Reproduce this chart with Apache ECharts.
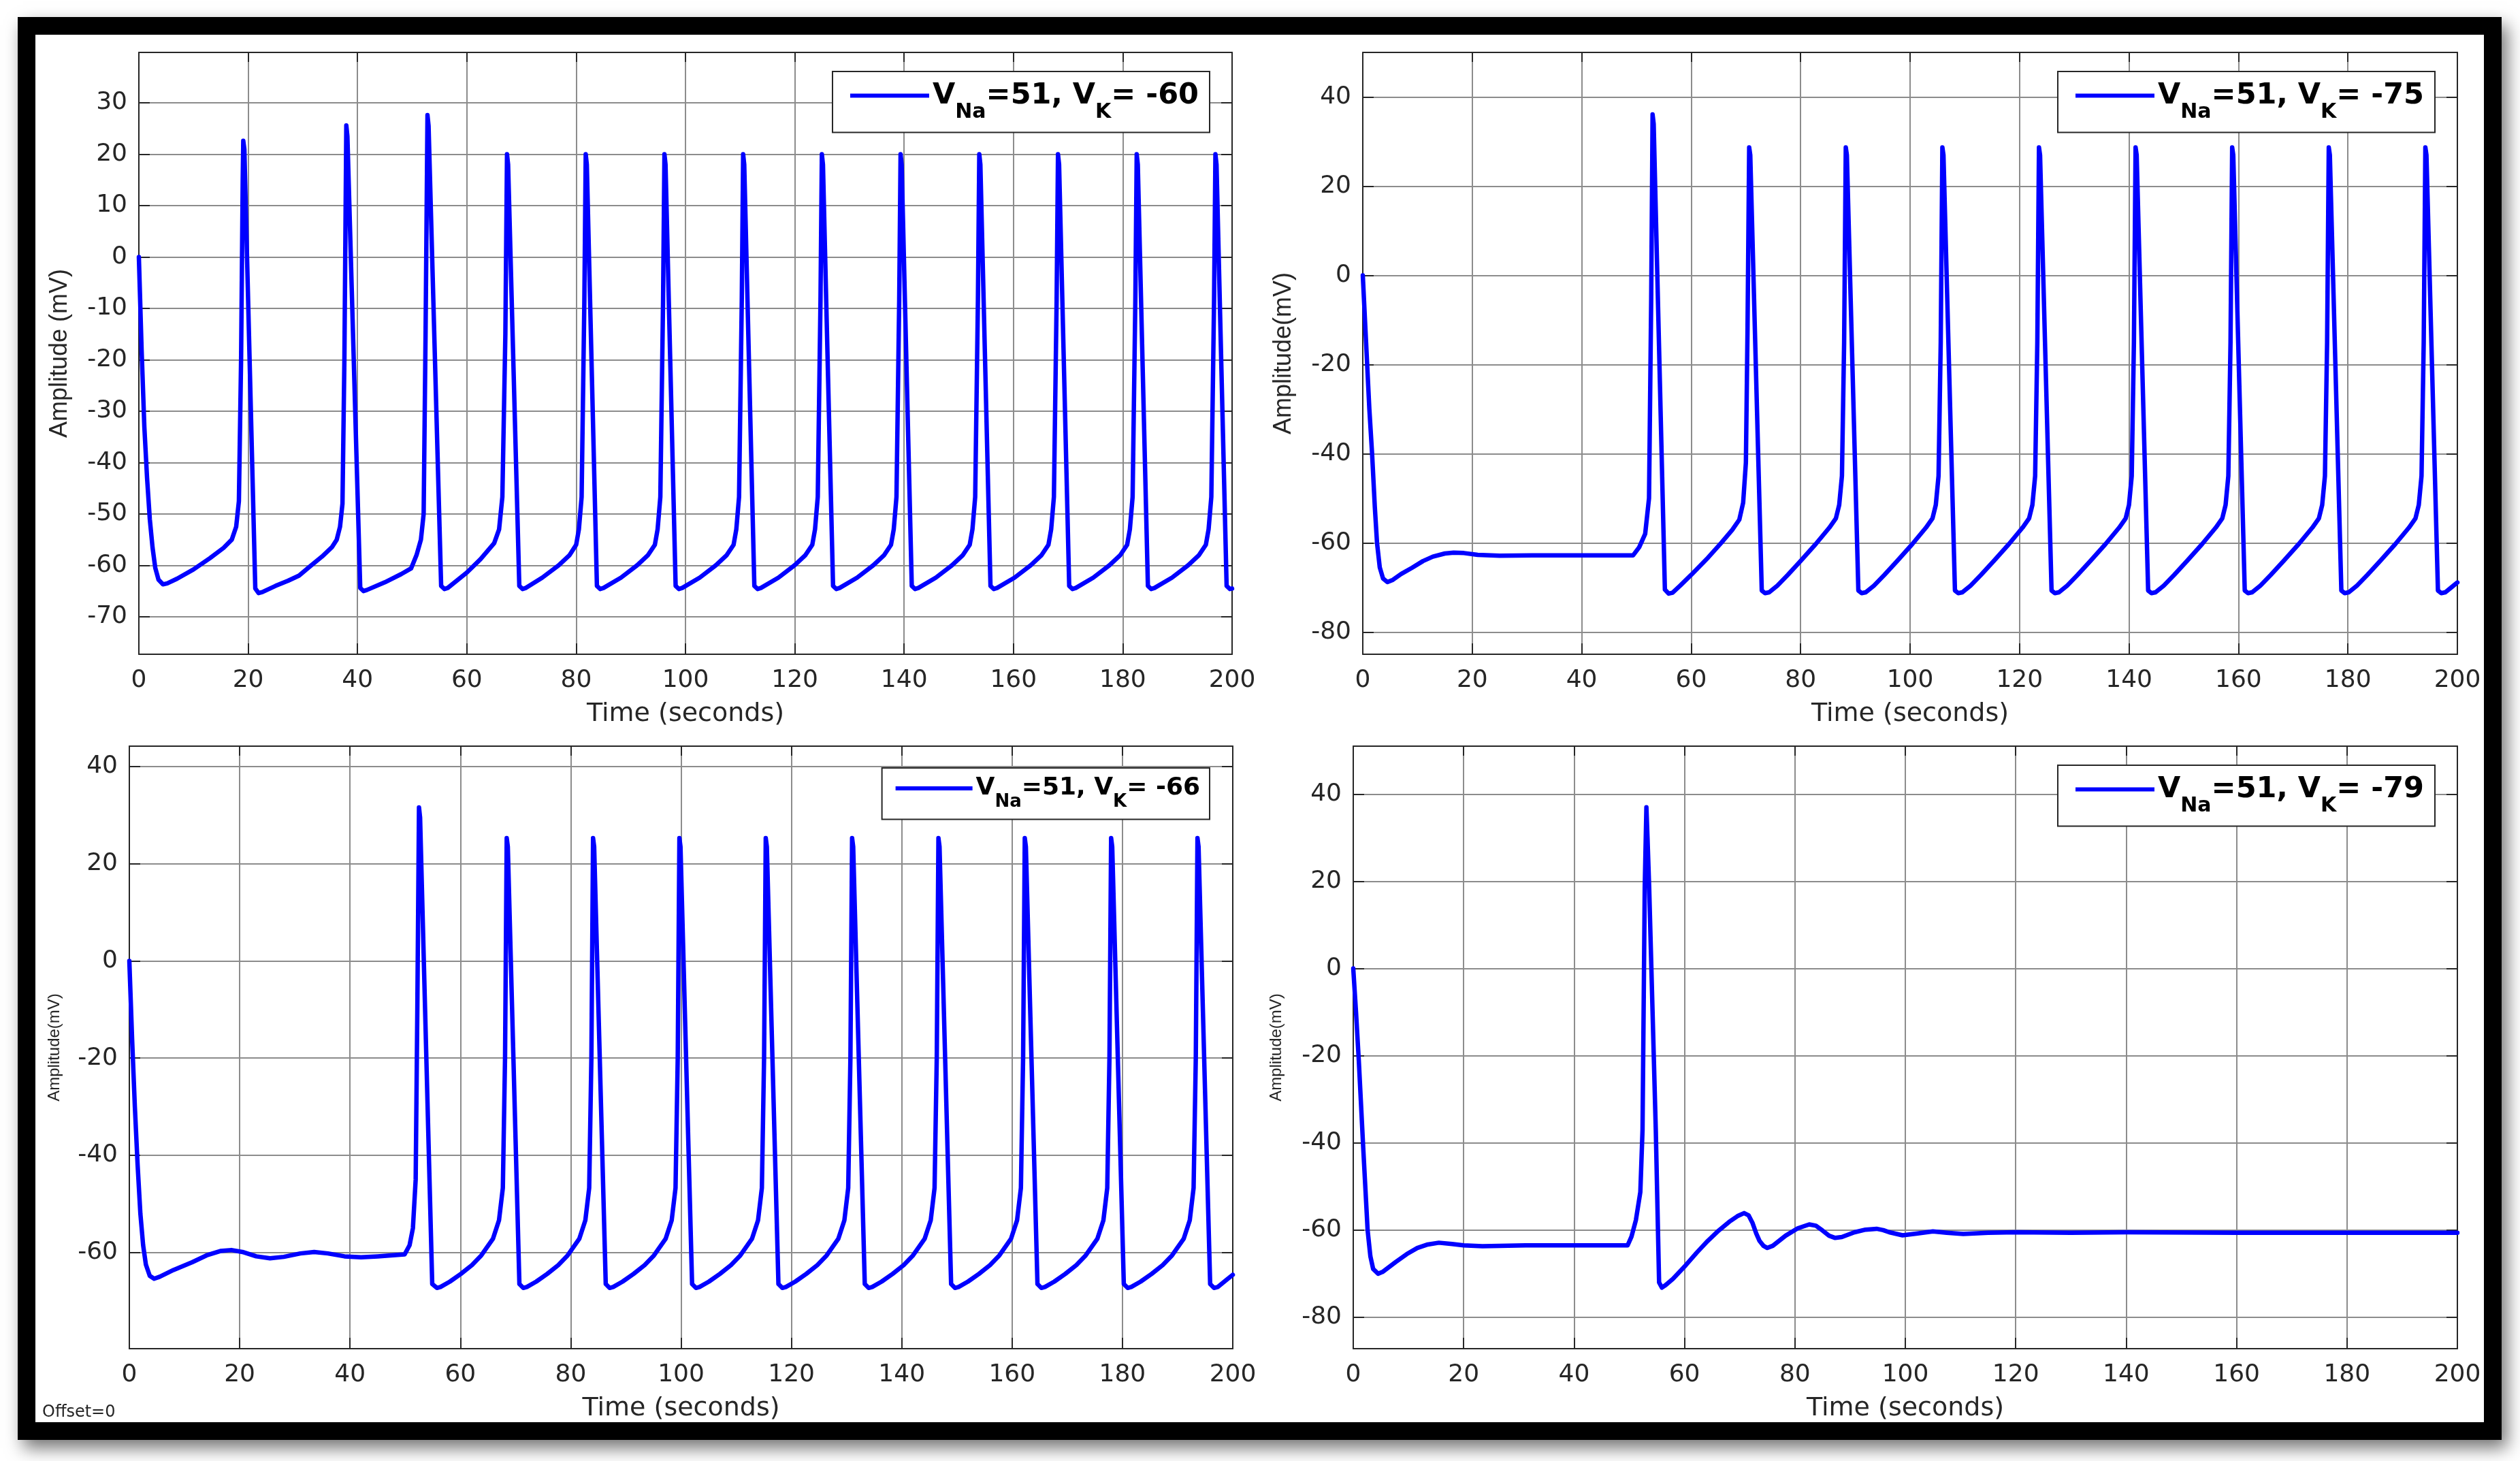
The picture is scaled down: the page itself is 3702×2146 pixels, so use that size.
<!DOCTYPE html>
<html>
<head>
<meta charset="utf-8">
<title>Membrane potential, four V_K values</title>
<script src="https://cdn.jsdelivr.net/npm/echarts@6/dist/echarts.min.js"></script>
<style>
html, body { margin: 0; padding: 0; background: #fff; }
#main { width: 3702px; height: 2146px; }
</style>
</head>
<body>
<div id="main"></div>
<script>
// traces: [time (s), amplitude (mV)]
var traceK60 = [
  [0,0],[0.5,-18],[1.0,-33],[1.5,-43],[2.0,-51],[2.5,-56.5],[3.0,-60.5],[3.6,-62.8],[4.4,-63.7],[5.2,-63.5],
  [7,-62.6],[10,-60.8],[13,-58.6],[15.5,-56.6],[17,-55],[17.8,-52.5],[18.3,-47.5],[18.7,-20],[19.0,15],[19.1,22.6],[19.3,21],
  [21.3,-64.5],[21.9,-65.4],[22.6,-65.2],[25,-64],[27.3,-63],[29.3,-62],[31.3,-60.2],[33.5,-58.3],[35.3,-56.5],[36.2,-55],[36.8,-52.5],
  [37.25,-48],[37.6,-20],[37.95,25.6],[38.15,23.5],[40.5,-64.4],[41.1,-65],[41.7,-64.8],[45,-63.3],[48,-61.7],[49.8,-60.6],
  [50.8,-58],[51.6,-55],[52.1,-50],[52.45,-15],[52.8,27.6],[53.0,25.5],[55.3,-64],[55.9,-64.6],[56.5,-64.4],[60,-61.4],
  [62.5,-58.8],[64.2,-56.7],[65.0,-55.7],[65.9,-53],[66.5,-46.7],[67.05,-15],[67.35,20],[67.55,18],
  [69.6,-64],[70.2,-64.6],[70.8,-64.4],[73.8,-62.4],[76.8,-60],[78.8,-58],[80.0,-56],[80.5,-53],[81.0,-46.7],[81.5,-8.5],[81.75,20],[81.95,18],
  [83.8,-64],[84.4,-64.6],[85.0,-64.4],[88.2,-62.4],[91.15,-60],[93.15,-58],[94.4,-56],[94.9,-53],[95.4,-46.7],[95.9,-8.5],[96.15,20],[96.35,18],
  [98.2,-64],[98.8,-64.6],[99.4,-64.4],[102.6,-62.4],[105.55,-60],[107.55,-58],[108.8,-56],[109.3,-53],[109.8,-46.7],[110.3,-8.5],[110.55,20],[110.75,18],
  [112.6,-64],[113.2,-64.6],[113.8,-64.4],[117.0,-62.4],[119.95,-60],[121.95,-58],[123.2,-56],[123.7,-53],[124.2,-46.7],[124.7,-8.5],[124.95,20],[125.15,18],
  [127.0,-64],[127.6,-64.6],[128.2,-64.4],[131.4,-62.4],[134.35,-60],[136.35,-58],[137.6,-56],[138.1,-53],[138.6,-46.7],[139.1,-8.5],[139.35,20],[139.55,18],
  [141.4,-64],[142.0,-64.6],[142.6,-64.4],[145.8,-62.4],[148.75,-60],[150.75,-58],[152.0,-56],[152.5,-53],[153.0,-46.7],[153.5,-8.5],[153.75,20],[153.95,18],
  [155.8,-64],[156.4,-64.6],[157.0,-64.4],[160.2,-62.4],[163.15,-60],[165.15,-58],[166.4,-56],[166.9,-53],[167.4,-46.7],[167.9,-8.5],[168.15,20],[168.35,18],
  [170.2,-64],[170.8,-64.6],[171.4,-64.4],[174.6,-62.4],[177.55,-60],[179.55,-58],[180.8,-56],[181.3,-53],[181.8,-46.7],[182.3,-8.5],[182.55,20],[182.75,18],
  [184.6,-64],[185.2,-64.6],[185.8,-64.4],[189.0,-62.4],[191.95,-60],[193.95,-58],[195.2,-56],[195.7,-53],[196.2,-46.7],[196.7,-8.5],[196.95,20],[197.15,18],
  [199.0,-64],[199.6,-64.6],[200,-64.5]
];

var traceK75 = [
  [0,0],[0.6,-15],[1.2,-30],[1.7,-40],[2.2,-52],[2.6,-60],[3.1,-65.5],[3.7,-68],[4.5,-68.8],[5.5,-68.3],[7,-67],[9,-65.6],
  [11,-64.1],[12.8,-63.1],[15,-62.4],[16.6,-62.2],[18.5,-62.3],[21,-62.7],[25,-62.9],[31,-62.8],[40,-62.8],[49.4,-62.8],
  [50.5,-61],[51.6,-58],[52.3,-50],[52.7,-5],[52.95,36.1],[53.15,34],[55.2,-70.5],[55.9,-71.4],[56.6,-71.2],[58,-69.6],
  [60,-67.2],[63.1,-63.3],[65.5,-60],[67.5,-57.1],[68.8,-54.8],[69.5,-51],[70.0,-42],[70.3,-12],[70.6,28.7],[70.8,27],
  [72.9,-70.7],[73.5,-71.3],[74.25,-71.1],[75.75,-69.6],[77.65,-67.2],[80.05,-64],[82.75,-60.3],[85.25,-56.6],[86.45,-54.5],[87.05,-51.5],[87.55,-45],[87.95,-15],[88.25,28.7],[88.45,27],
  [90.55,-70.7],[91.15,-71.3],[91.9,-71.1],[93.4,-69.6],[95.3,-67.2],[97.7,-64],[100.4,-60.3],[102.9,-56.6],[104.1,-54.5],[104.7,-51.5],[105.2,-45],[105.6,-15],[105.9,28.7],[106.1,27],
  [108.2,-70.7],[108.8,-71.3],[109.55,-71.1],[111.05,-69.6],[112.95,-67.2],[115.35,-64],[118.05,-60.3],[120.55,-56.6],[121.75,-54.5],[122.35,-51.5],[122.85,-45],[123.25,-15],[123.55,28.7],[123.75,27],
  [125.85,-70.7],[126.45,-71.3],[127.2,-71.1],[128.7,-69.6],[130.6,-67.2],[133.0,-64],[135.7,-60.3],[138.2,-56.6],[139.4,-54.5],[140.0,-51.5],[140.5,-45],[140.9,-15],[141.2,28.7],[141.4,27],
  [143.5,-70.7],[144.1,-71.3],[144.85,-71.1],[146.35,-69.6],[148.25,-67.2],[150.65,-64],[153.35,-60.3],[155.85,-56.6],[157.05,-54.5],[157.65,-51.5],[158.15,-45],[158.55,-15],[158.85,28.7],[159.05,27],
  [161.15,-70.7],[161.75,-71.3],[162.5,-71.1],[164.0,-69.6],[165.9,-67.2],[168.3,-64],[171.0,-60.3],[173.5,-56.6],[174.7,-54.5],[175.3,-51.5],[175.8,-45],[176.2,-15],[176.5,28.7],[176.7,27],
  [178.8,-70.7],[179.4,-71.3],[180.15,-71.1],[181.65,-69.6],[183.55,-67.2],[185.95,-64],[188.65,-60.3],[191.15,-56.6],[192.35,-54.5],[192.95,-51.5],[193.45,-45],[193.85,-15],[194.15,28.7],[194.35,27],
  [196.45,-70.7],[197.05,-71.3],[197.8,-71.1],[199,-69.9],[200,-68.9]
];

var traceK66 = [
  [0,0],[0.5,-16],[1.0,-30],[1.5,-42],[2.0,-52],[2.5,-58.5],[3.0,-62.5],[3.7,-64.8],[4.5,-65.4],[5.5,-65],[8,-63.6],
  [11.4,-62],[14,-60.6],[16.5,-59.7],[18.5,-59.5],[20.5,-59.9],[23,-60.8],[25.5,-61.2],[28,-60.9],[31,-60.2],[33.5,-59.9],
  [36,-60.2],[39,-60.8],[42,-61],[45,-60.8],[49.9,-60.4],[50.8,-58.5],[51.4,-55],[51.9,-45],[52.2,-10],[52.5,31.6],[52.7,29.5],
  [54.9,-66.5],[55.75,-67.3],[56.4,-67.1],[58.1,-66.0],[60.1,-64.4],[62.1,-62.6],[63.8,-60.6],[65.9,-57.2],[67.0,-53.4],[67.7,-46.7],[68.1,-19.8],[68.4,25.3],[68.6,23.5],
  [70.7,-66.5],[71.4,-67.3],[72.05,-67.1],[73.75,-66.0],[75.75,-64.4],[77.75,-62.6],[79.45,-60.6],[81.55,-57.2],[82.65,-53.4],[83.35,-46.7],[83.75,-19.8],[84.05,25.3],[84.25,23.5],
  [86.35,-66.5],[87.05,-67.3],[87.7,-67.1],[89.4,-66.0],[91.4,-64.4],[93.4,-62.6],[95.1,-60.6],[97.2,-57.2],[98.3,-53.4],[99.0,-46.7],[99.4,-19.8],[99.7,25.3],[99.9,23.5],
  [102.0,-66.5],[102.7,-67.3],[103.35,-67.1],[105.05,-66.0],[107.05,-64.4],[109.05,-62.6],[110.75,-60.6],[112.85,-57.2],[113.95,-53.4],[114.65,-46.7],[115.05,-19.8],[115.35,25.3],[115.55,23.5],
  [117.65,-66.5],[118.35,-67.3],[119.0,-67.1],[120.7,-66.0],[122.7,-64.4],[124.7,-62.6],[126.4,-60.6],[128.5,-57.2],[129.6,-53.4],[130.3,-46.7],[130.7,-19.8],[131.0,25.3],[131.2,23.5],
  [133.3,-66.5],[134.0,-67.3],[134.65,-67.1],[136.35,-66.0],[138.35,-64.4],[140.35,-62.6],[142.05,-60.6],[144.15,-57.2],[145.25,-53.4],[145.95,-46.7],[146.35,-19.8],[146.65,25.3],[146.85,23.5],
  [148.95,-66.5],[149.65,-67.3],[150.3,-67.1],[152.0,-66.0],[154.0,-64.4],[156.0,-62.6],[157.7,-60.6],[159.8,-57.2],[160.9,-53.4],[161.6,-46.7],[162.0,-19.8],[162.3,25.3],[162.5,23.5],
  [164.6,-66.5],[165.3,-67.3],[165.95,-67.1],[167.65,-66.0],[169.65,-64.4],[171.65,-62.6],[173.35,-60.6],[175.45,-57.2],[176.55,-53.4],[177.25,-46.7],[177.65,-19.8],[177.95,25.3],[178.15,23.5],
  [180.25,-66.5],[180.95,-67.3],[181.6,-67.1],[183.3,-66.0],[185.3,-64.4],[187.3,-62.6],[189.0,-60.6],[191.1,-57.2],[192.2,-53.4],[192.9,-46.7],[193.3,-19.8],[193.6,25.3],[193.8,23.5],
  [195.9,-66.5],[196.6,-67.3],[197.3,-67.1],[199,-65.5],[200,-64.6]
];

var traceK79 = [
  [0,0],[0.5,-10],[1.0,-21],[1.8,-41],[2.6,-60],[3.1,-66],[3.6,-68.9],[4.5,-70],[5.3,-69.6],[7.7,-67.3],[9.7,-65.5],
  [11.6,-64.1],[13.5,-63.3],[15.5,-62.9],[17.9,-63.2],[20,-63.5],[23.4,-63.7],[31.2,-63.5],[40,-63.5],[49.7,-63.5],
  [50.4,-61.5],[51.2,-57.7],[52.0,-51.3],[52.4,-37],[52.8,18.7],[53.1,37.0],[53.3,30],[53.6,18.7],[54.8,-37],[55.4,-72],
  [55.9,-73.2],[56.6,-72.6],[57.9,-71.2],[60.2,-68.1],[62.2,-65.2],[64.2,-62.5],[66.2,-60.1],[68.1,-58.1],[69.6,-56.8],
  [70.8,-56.1],[71.6,-56.6],[72.3,-58.3],[73.0,-60.8],[73.6,-62.5],[74.3,-63.6],[75.0,-64.1],[76.0,-63.6],[78.3,-61.3],
  [80.5,-59.6],[82.6,-58.7],[83.8,-59.0],[85.0,-60.1],[86.2,-61.3],[87.3,-61.8],[88.5,-61.6],[90.8,-60.5],[92.8,-59.9],
  [94.8,-59.7],[96.0,-60.0],[97.1,-60.5],[99.5,-61.2],[102.0,-60.8],[105.0,-60.3],[107.5,-60.6],[110.5,-60.9],[115,-60.6],
  [120,-60.5],[130,-60.6],[140,-60.5],[160,-60.6],[180,-60.6],[200,-60.6]
];

// y tick labels and limits per panel
var ticksK60 = [-70, -60, -50, -40, -30, -20, -10, 0, 10, 20, 30];
var ticksK75 = [-80, -60, -40, -20, 0, 20, 40];
var ticksK66 = [-60, -40, -20, 0, 20, 40];
var ticksK79 = [-80, -60, -40, -20, 0, 20, 40];
var limitsK60 = [-77.3, 39.8];
var limitsK75 = [-85, 50];
var limitsK66 = [-79.8, 44.2];
var limitsK79 = [-87.2, 51];

var axisColor = '#262626';
var gridColor = '#8c8c8c';
var lineBlue = '#0000ff';

var panels = [
    {id: 'k60', vk: '-60', data: traceK60, ticks: ticksK60, limits: limitsK60,
     yName: 'Amplitude (mV)', yNameSize: 36, yNameGap: 98,
     box: {left: 204, top: 77, width: 1606, height: 884},
     leg: {right: 1925, top: 105, main: 43, sub: 30, line: 116, pad: [14, 16, 14, 26]}},
    {id: 'k75', vk: '-75', data: traceK75, ticks: ticksK75, limits: limitsK75,
     yName: 'Amplitude(mV)', yNameSize: 36, yNameGap: 98,
     box: {left: 2002, top: 77, width: 1608, height: 884},
     leg: {right: 125, top: 105, main: 43, sub: 30, line: 116, pad: [14, 16, 14, 26]}},
    {id: 'k66', vk: '-66', data: traceK66, ticks: ticksK66, limits: limitsK66,
     yName: 'Amplitude(mV)', yNameSize: 24, yNameGap: 98,
     box: {left: 190, top: 1096, width: 1621, height: 885},
     leg: {right: 1925, top: 1128, main: 36, sub: 26, line: 113, pad: [12, 14, 12, 20]}},
    {id: 'k79', vk: '-79', data: traceK79, ticks: ticksK79, limits: limitsK79,
     yName: 'Amplitude(mV)', yNameSize: 24, yNameGap: 101,
     box: {left: 1988, top: 1096, width: 1622, height: 885},
     leg: {right: 125, top: 1124, main: 43, sub: 30, line: 116, pad: [14, 16, 14, 26]}}
];

var tickFont = {color: axisColor, fontFamily: 'DejaVu Sans', fontSize: 36};

var option = {
    animation: false,
    backgroundColor: '#fff',
    grid: [], xAxis: [], yAxis: [], legend: [], series: [],
    graphic: [
        {type: 'rect', z: -20, shape: {x: 26, y: 25, width: 3649, height: 2090},
         style: {fill: '#000', shadowBlur: 24, shadowOffsetX: 8, shadowOffsetY: 12, shadowColor: 'rgba(0,0,0,0.55)'}},
        {type: 'rect', z: -19, shape: {x: 52, y: 51, width: 3597, height: 2038}, style: {fill: '#fff'}},
        {type: 'text', z: 5, x: 62, y: 2075,
         style: {text: 'Offset=0', fill: axisColor, font: '24px "DejaVu Sans"', verticalAlign: 'middle'}}
    ]
};

panels.forEach(function (p, i) {
    option.grid.push({left: p.box.left, top: p.box.top, width: p.box.width, height: p.box.height,
                      show: false, containLabel: false});
    // bottom time axis
    option.xAxis.push({
        type: 'value', gridIndex: i, min: 0, max: 200, interval: 20, position: 'bottom',
        name: 'Time (seconds)', nameLocation: 'middle', nameGap: 69,
        nameTextStyle: {color: axisColor, fontFamily: 'DejaVu Sans', fontSize: 38},
        axisLine: {show: true, onZero: false, lineStyle: {color: axisColor, width: 2}},
        axisTick: {show: true, inside: true, length: 16, lineStyle: {color: axisColor, width: 2}},
        axisLabel: Object.assign({margin: 21}, tickFont),
        splitLine: {show: true, lineStyle: {color: gridColor, width: 2}}
    });
    // top edge of the box
    option.xAxis.push({
        type: 'value', gridIndex: i, min: 0, max: 200, interval: 20, position: 'top',
        axisLine: {show: true, onZero: false, lineStyle: {color: axisColor, width: 2}},
        axisTick: {show: true, inside: true, length: 14, lineStyle: {color: axisColor, width: 2}},
        axisLabel: {show: false}, splitLine: {show: false}
    });
    option.yAxis.push({
        type: 'value', gridIndex: i, min: p.limits[0], max: p.limits[1], position: 'left',
        name: p.yName, nameLocation: 'middle', nameGap: p.yNameGap, nameRotate: 90,
        nameTextStyle: {color: axisColor, fontFamily: 'Liberation Sans', fontSize: p.yNameSize},
        axisLine: {show: true, onZero: false, lineStyle: {color: axisColor, width: 2}},
        axisTick: {show: true, inside: true, length: 16, customValues: p.ticks, lineStyle: {color: axisColor, width: 2}},
        axisLabel: Object.assign({margin: 17, customValues: p.ticks}, tickFont),
        splitLine: {show: true, lineStyle: {color: gridColor, width: 2}}
    });
    option.yAxis.push({
        type: 'value', gridIndex: i, min: p.limits[0], max: p.limits[1], position: 'right',
        axisLine: {show: true, onZero: false, lineStyle: {color: axisColor, width: 2}},
        axisTick: {show: true, inside: true, length: 16, customValues: p.ticks, lineStyle: {color: axisColor, width: 2}},
        axisLabel: {show: false}, splitLine: {show: false}
    });
    // legend entry with V_Na / V_K subscripts
    option.legend.push({
        data: [p.id], right: p.leg.right, top: p.leg.top, icon: 'rect',
        itemWidth: p.leg.line, itemHeight: 6, padding: p.leg.pad,
        backgroundColor: '#fff', borderColor: axisColor, borderWidth: 2, borderRadius: 0,
        selectedMode: false,
        formatter: function () {
            return '{m|V}{s|Na}{m|=51, V}{s|K}{m|= ' + p.vk + '}';
        },
        textStyle: {
            color: '#000', fontFamily: 'DejaVu Sans', fontWeight: 'bold', fontSize: p.leg.main,
            rich: {
                m: {color: '#000', fontFamily: 'DejaVu Sans', fontWeight: 'bold', fontSize: p.leg.main,
                    lineHeight: Math.round(p.leg.main * 1.86), verticalAlign: 'middle'},
                s: {color: '#000', fontFamily: 'DejaVu Sans', fontWeight: 'bold', fontSize: p.leg.sub,
                    lineHeight: p.leg.sub, verticalAlign: 'bottom'}
            }
        }
    });
    option.series.push({
        name: p.id, type: 'line', xAxisIndex: 2 * i, yAxisIndex: 2 * i,
        data: p.data, showSymbol: false, symbol: 'none', smooth: false,
        color: lineBlue,
        lineStyle: {color: lineBlue, width: 6.5, join: 'round', cap: 'round'},
        itemStyle: {color: lineBlue}
    });
});

var chart = echarts.init(document.getElementById('main'));
chart.setOption(option);
</script>
</body>
</html>
